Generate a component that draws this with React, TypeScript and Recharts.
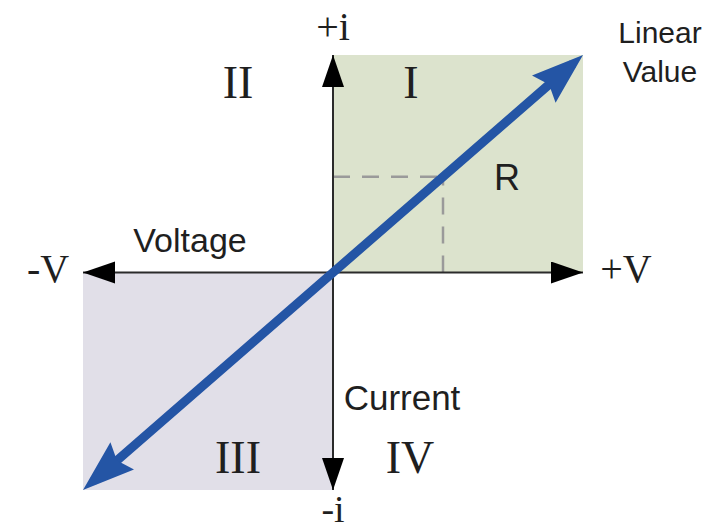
import { ComposedChart, Line, XAxis, YAxis, ReferenceArea, ReferenceLine } from 'recharts'

// I-V characteristic of a linear resistor
const VOLTAGE = [-1, 1]
const CURRENT = [-1, 1]
const AXIS_MIN = -1
const AXIS_MAX = 1
const POINT_V = 0.44
const POINT_I = 0.44

const data = VOLTAGE.map((v, k) => ({ v, i: CURRENT[k] }))

const SERIF = '"Liberation Serif", "DejaVu Serif", serif'
const SANS = '"Liberation Sans", Arial, sans-serif'
const INK = '#1f1f1f'

const axisShape = (p: any) => (
  <line
    x1={p.x1}
    y1={p.y1}
    x2={p.x2}
    y2={p.y2}
    stroke="#2b2b2b"
    strokeWidth={2}
    markerStart="url(#axisArrow)"
    markerEnd="url(#axisArrow)"
  />
)

export default function App() {
  return (
    <div style={{ position: 'absolute', left: 0, top: 0, width: 728, height: 529, background: '#fff' }}>
      <ComposedChart
        width={728}
        height={529}
        data={data}
        margin={{ top: 55, right: 145, bottom: 39, left: 83 }}
      >
        <defs>
          <marker
            id="axisArrow"
            markerUnits="userSpaceOnUse"
            markerWidth={34}
            markerHeight={24}
            refX={32}
            refY={11}
            orient="auto-start-reverse"
          >
            <path d="M0,0 L32,11 L0,22 Z" fill="#000" />
          </marker>
          <marker
            id="blueArrow"
            markerUnits="userSpaceOnUse"
            markerWidth={56}
            markerHeight={40}
            refX={52}
            refY={18}
            orient="auto-start-reverse"
          >
            <path d="M0,0 L52,18 L0,36 L7,18 Z" fill="#2455a5" />
          </marker>
        </defs>
        <XAxis type="number" dataKey="v" domain={[AXIS_MIN, AXIS_MAX]} hide />
        <YAxis type="number" domain={[AXIS_MIN, AXIS_MAX]} hide />
        <ReferenceArea x1={0} x2={AXIS_MAX} y1={0} y2={AXIS_MAX} fill="#dce3cd" fillOpacity={1} stroke="none" />
        <ReferenceArea x1={AXIS_MIN} x2={0} y1={AXIS_MIN} y2={0} fill="#e1dfe8" fillOpacity={1} stroke="none" />
        <ReferenceLine
          segment={[{ x: 0, y: POINT_I }, { x: POINT_V, y: POINT_I }]}
          stroke="#9a9a9a"
          strokeWidth={2.5}
          strokeDasharray="17 12"
        />
        <ReferenceLine
          segment={[{ x: POINT_V, y: 0 }, { x: POINT_V, y: POINT_I }]}
          stroke="#9a9a9a"
          strokeWidth={2.5}
          strokeDasharray="17 12"
        />
        <ReferenceLine x={0} shape={axisShape} />
        <ReferenceLine y={0} shape={axisShape} />
        <Line
          dataKey="i"
          stroke="#2455a5"
          strokeWidth={9}
          strokeDasharray="0 14 635 60"
          markerStart="url(#blueArrow)"
          markerEnd="url(#blueArrow)"
          dot={false}
          activeDot={false}
          isAnimationActive={false}
        />
      </ComposedChart>
      <svg
        width={728}
        height={529}
        style={{ position: 'absolute', left: 0, top: 0, pointerEvents: 'none' }}
      >
        <g fill={INK}>
          <text x={333} y={40} textAnchor="middle" fontFamily={SERIF} fontSize={40}>+i</text>
          <text x={333} y={522} textAnchor="middle" fontFamily={SERIF} fontSize={38}>-i</text>
          <text x={48} y={282} textAnchor="middle" fontFamily={SERIF} fontSize={40}>-V</text>
          <text x={626} y={282} textAnchor="middle" fontFamily={SERIF} fontSize={40}>+V</text>
          <text x={238} y={98} textAnchor="middle" fontFamily={SERIF} fontSize={46}>II</text>
          <text x={411} y={98} textAnchor="middle" fontFamily={SERIF} fontSize={46}>I</text>
          <text x={238} y={473} textAnchor="middle" fontFamily={SERIF} fontSize={46}>III</text>
          <text x={410} y={473} textAnchor="middle" fontFamily={SERIF} fontSize={46}>IV</text>
          <text x={507} y={190} textAnchor="middle" fontFamily={SANS} fontSize={36}>R</text>
          <text x={190} y={252} textAnchor="middle" fontFamily={SANS} fontSize={34}>Voltage</text>
          <text x={402} y={410} textAnchor="middle" fontFamily={SANS} fontSize={35}>Current</text>
          <text x={660} y={43} textAnchor="middle" fontFamily={SANS} fontSize={30}>Linear</text>
          <text x={660} y={82} textAnchor="middle" fontFamily={SANS} fontSize={30}>Value</text>
        </g>
      </svg>
    </div>
  )
}
